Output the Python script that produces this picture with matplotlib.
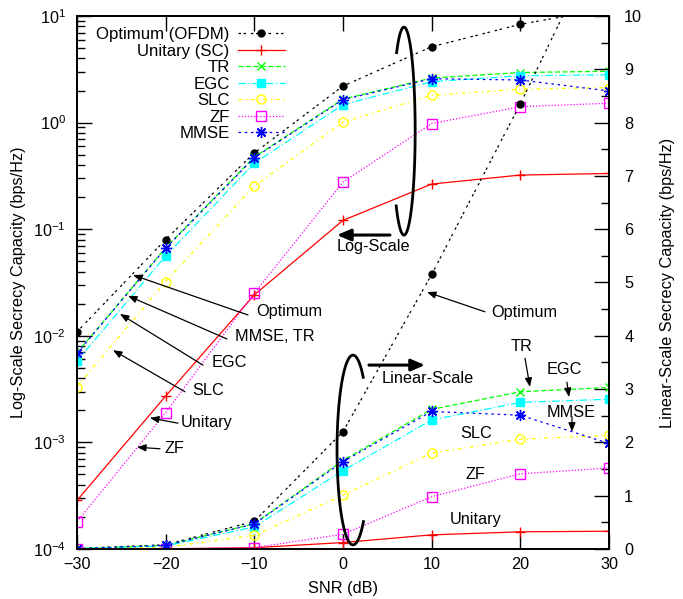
import matplotlib
matplotlib.use("Agg")
import matplotlib.pyplot as plt
from matplotlib.ticker import MultipleLocator, NullFormatter
import numpy as np

plt.rcParams['font.family'] = ['Liberation Sans', 'DejaVu Sans']
plt.rcParams['font.size'] = 11.7
plt.rcParams['mathtext.fontset'] = 'custom'
plt.rcParams['mathtext.rm'] = 'Liberation Sans'
plt.rcParams['mathtext.it'] = 'Liberation Sans:italic'

# secrecy capacity (bps/Hz) vs SNR, same values drawn on both axes
snr = [-30, -20, -10, 0, 10, 20, 30]
optimum = [0.0109, 0.080, 0.52, 2.2, 5.15, 8.35, 11.8]
unitary = [2.85e-4, 0.00272, 0.0242, 0.121, 0.265, 0.322, 0.333]
tr = [0.0069, 0.067, 0.475, 1.66, 2.62, 2.95, 3.03]
egc = [0.0058, 0.0561, 0.415, 1.47, 2.42, 2.75, 2.81]
slc = [0.00333, 0.0323, 0.254, 1.01, 1.80, 2.06, 2.13]
zf = [1.80e-4, 0.0019, 0.0251, 0.277, 0.98, 1.41, 1.52]
mmse = [0.00686, 0.0662, 0.469, 1.64, 2.58, 2.51, 1.98]

# label, values, color, dashes, marker, size, filled
styles = [
    ("Optimum (OFDM)", optimum, "black", (0, (2, 2, 2, 4)), "o", 5, True),
    ("Unitary (SC)", unitary, "#ff0000", "-", "+", 7, False),
    ("TR", tr, "#00ff00", (0, (4, 2)), "x", 6, False),
    ("EGC", egc, "#00ffff", (0, (6, 2, 1, 2)), "s", 5.5, True),
    ("SLC", slc, "#ffff00", (0, (3, 3, 1, 3)), "o", 6.5, False),
    ("ZF", zf, "#ff00ff", (0, (1, 1.5)), "s", 6.5, False),
    ("MMSE", mmse, "#0000ff", (0, (2, 3)), (8, 2, 0), 8, False),
]

fig = plt.figure(figsize=(6.83, 5.99), dpi=100)
ax = fig.add_axes([0.1127, 0.0835, 0.7789, 0.8898])
ax2 = ax.twinx()

handles = []
for lab, vals, col, ls, mk, ms, filled in styles:
    kw = dict(color=col, linestyle=ls, lw=0.9, marker=mk, markersize=ms,
              markeredgewidth=1.0, markerfacecolor=col if filled else "none")
    h, = ax.plot(snr, vals, label=lab, **kw)
    ax2.plot(snr, vals, **kw)
    handles.append(h)

ax.set_yscale("log")
ax.set_xlim(-30, 30)
ax.set_ylim(1e-4, 10)
ax2.set_xlim(-30, 30)
ax2.set_ylim(0, 10)
ax.set_xticks(snr)
ax.tick_params(axis="x", direction="in", top=True, length=11, width=1, pad=6)
ax.tick_params(axis="y", which="major", direction="in", length=11, width=1, pad=8)
ax.tick_params(axis="y", which="minor", direction="in", length=6, width=1)
ax.yaxis.set_minor_formatter(NullFormatter())
ax2.yaxis.set_major_locator(MultipleLocator(1))
ax2.yaxis.set_minor_locator(MultipleLocator(0.5))
ax2.tick_params(axis="y", which="major", direction="in", length=11, width=1, pad=11)
ax2.tick_params(axis="y", which="minor", direction="in", length=6, width=1)
for a in (ax, ax2):
    for s in a.spines.values():
        s.set_linewidth(1.3)

ax.set_xlabel("SNR (dB)", labelpad=6)
ax.set_ylabel("Log-Scale Secrecy Capacity (bps/Hz)", labelpad=5)
ax2.set_ylabel("Linear-Scale Secrecy Capacity (bps/Hz)", labelpad=13)

ax2.legend(handles, [h.get_label() for h in handles], loc="upper right",
           bbox_to_anchor=(285 / 683, 1 - 27 / 599), bbox_transform=fig.transFigure,
           frameon=False, borderpad=0, borderaxespad=0, handlelength=2.8,
           handletextpad=0.5, labelspacing=0.09, markerfirst=False, numpoints=1,
           fontsize=12.1)

# pointer arrows + labels (in linear axis coordinates)
thin = dict(arrowstyle="-|>,head_length=0.45,head_width=0.18", color="black",
            lw=0.9, shrinkA=0, shrinkB=0)
thick = dict(arrowstyle="-|>,head_length=0.7,head_width=0.3", color="black",
             lw=2.2, shrinkA=0, shrinkB=0)
notes = [
    ("Optimum", (-9.81, 4.45), (-10.71, 4.39), (-23.68, 5.14)),
    ("MMSE, TR", (-12.18, 3.98), (-13.08, 3.94), (-24.25, 4.75)),
    ("EGC", (-14.78, 3.49), (-15.79, 3.45), (-25.15, 4.41)),
    ("SLC", (-17.03, 2.98), (-17.82, 2.95), (-25.94, 3.73)),
    ("Unitary", (-18.27, 2.38), (-18.61, 2.36), (-21.77, 2.46)),
    ("ZF", (-20.08, 1.89), (-20.64, 1.88), (-23.23, 1.91)),
    ("Optimum", (16.69, 4.43), (16.01, 4.45), (9.47, 4.82)),
    ("EGC", (23.01, 3.36), (25.26, 3.13), (25.49, 2.85)),
    ("MMSE", (23.01, 2.57), (25.83, 2.48), (25.83, 2.20)),
]
for txt, tpos, start, end in notes:
    ax2.text(tpos[0], tpos[1], txt, ha="left", va="center")
    ax2.annotate("", xy=end, xytext=start, arrowprops=thin)

ax2.text(20.19, 3.79, "TR", ha="center", va="center")
ax2.annotate("", xy=(21.09, 3.04), xytext=(20.53, 3.58), arrowprops=thin)
ax2.text(13.19, 2.16, "SLC", ha="left", va="center")
ax2.text(13.87, 1.39, "ZF", ha="left", va="center")
ax2.text(12.07, 0.56, "Unitary", ha="left", va="center")

ax2.text(-0.68, 5.67, "Log-Scale", ha="left", va="center")
ax2.annotate("", xy=(-0.68, 5.89), xytext=(5.30, 5.89), arrowprops=thick)
ax2.text(4.40, 3.19, "Linear-Scale", ha="left", va="center")
ax2.annotate("", xy=(9.25, 3.45), xytext=(2.93, 3.45), arrowprops=thick)

# open ellipses grouping the curves
t = np.radians(np.linspace(-134, 131, 120))
ax2.plot(6.88 + 1.263 * np.cos(t), 7.84 + 1.951 * np.sin(t), color="black", lw=2)
t = np.radians(np.linspace(50, 311, 120))
ax2.plot(1.13 + 1.80 * np.cos(t), 1.857 + 1.78 * np.sin(t), color="black", lw=2)
ax2.set_xlim(-30, 30)
ax2.set_ylim(0, 10)

fig.savefig("out.png", dpi=100)
